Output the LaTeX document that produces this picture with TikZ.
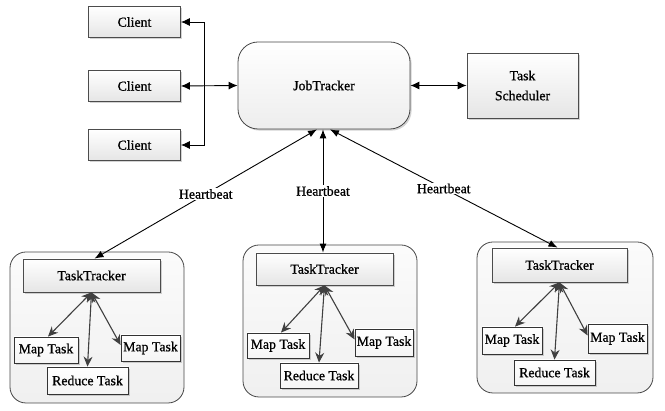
\documentclass[tikz,border=0pt]{standalone}
\usepackage{fontspec}
\setmainfont{Liberation Serif}[RawFeature={embolden=0.8}]
\usetikzlibrary{arrows.meta,shadows}
\begin{document}
\begin{tikzpicture}[x=1pt,y=-1pt,
  font=\fontsize{13.8}{16}\selectfont,
  sz/.style 2 args={minimum width=#1pt,minimum height=#2pt},
  shad/.style={drop shadow={shadow xshift=1.6pt,shadow yshift=-1.6pt,opacity=0.35}},
  box/.style={draw=gray!60!black, line width=0.8pt, top color=white, bottom color=gray!20, shad, inner sep=0pt, align=center},
  taskbox/.style={draw=gray!40!black, line width=0.8pt, top color=white, bottom color=gray!8, shad, inner sep=0pt},
  group/.style={draw=gray!55!black, line width=0.8pt, rounded corners=16pt, top color=gray!3, bottom color=gray!12, inner sep=0pt},
  jtbox/.style={draw=gray!55!black, line width=0.8pt, rounded corners=20pt, top color=white, bottom color=gray!14, shad, inner sep=0pt},
  arr/.style={black, line width=0.9pt, {Latex[length=9pt,width=8pt]}-{Latex[length=9pt,width=8pt]}},
  onearr/.style={black, line width=0.9pt, -{Latex[length=9pt,width=8pt]}},
  hb/.style={black, line width=0.9pt, {Latex[length=9pt,width=7pt]}-{Latex[length=9pt,width=7pt]}},
  inner/.style={black!75, line width=1.1pt, {Stealth[length=10pt,width=9pt]}-{Stealth[length=10pt,width=9pt]}},
  lbl/.style={fill=white, inner sep=1pt}
]
\useasboundingbox (0,0) rectangle (665,411);

% clients
\node[box, sz={92}{31}] (c1) at (134.5,22) {Client};
\node[box, sz={92}{31}] (c2) at (134.5,86) {Client};
\node[box, sz={92}{31}] (c3) at (134.5,145) {Client};

% job tracker and scheduler
\node[jtbox, sz={172}{87}] (jt) at (324,85.5) {JobTracker};
\node[box, sz={111}{65}] (ts) at (522.5,85.5) {Task\\[4pt]Scheduler};

\coordinate (bus) at (204,86);
\draw[arr] (c2.east) -- (jt.west);
\draw[onearr] (bus) |- (c1.east);
\draw[onearr] (bus) |- (c3.east);
\draw[arr] (jt.east) -- (ts.west);

% groups
\node[group, sz={174}{151}] (g1) at (97,327.5) {};
\node[group, sz={174}{152}] (g2) at (330,321) {};
\node[group, sz={176}{151}] (g3) at (565,317.5) {};

% group 1
\node[box, sz={137}{33}] (tt1) at (91.5,275.5) {TaskTracker};
\node[taskbox, sz={64}{26}] (ml1) at (46,350) {Map Task};
\node[taskbox, sz={59}{26}] (mr1) at (150.5,348) {Map Task};
\node[taskbox, sz={81}{27}] (r1) at (87.5,380.5) {Reduce Task};

% group 2
\node[box, sz={137}{32}] (tt2) at (324.5,269) {TaskTracker};
\node[taskbox, sz={62}{25}] (ml2) at (278,345.5) {Map Task};
\node[taskbox, sz={58}{27}] (mr2) at (384,342.5) {Map Task};
\node[taskbox, sz={78}{25}] (r2) at (319,375.5) {Reduce Task};

% group 3
\node[box, sz={135}{34}] (tt3) at (559.5,265) {TaskTracker};
\node[taskbox, sz={60}{27}] (ml3) at (512,340.5) {Map Task};
\node[taskbox, sz={59}{29}] (mr3) at (617.5,338.5) {Map Task};
\node[taskbox, sz={81}{25}] (r3) at (554.5,372.5) {Reduce Task};

% inner arrows
\draw[inner] (tt1.south) -- ([xshift=2pt]ml1.north);
\draw[inner] (tt1.south) -- (r1.north);
\draw[inner] (tt1.south) -- ([yshift=3pt]mr1.west);
\draw[inner] (tt2.south) -- ([xshift=3pt]ml2.north);
\draw[inner] (tt2.south) -- (r2.north);
\draw[inner] (tt2.south) -- ([yshift=3pt]mr2.west);
\draw[inner] (tt3.south) -- ([xshift=3pt]ml3.north);
\draw[inner] (tt3.south) -- (r3.north);
\draw[inner] (tt3.south) -- ([yshift=3pt]mr3.west);

% heartbeats
\draw[hb] ([xshift=-7pt]jt.south) -- node[lbl, pos=0.5] {Heartbeat} ([xshift=3pt]tt1.north);
\draw[hb] ([xshift=-1pt]jt.south) -- node[lbl, pos=0.5] {Heartbeat} ([xshift=-1.5pt]tt2.north);
\draw[hb] ([xshift=6pt]jt.south) -- node[lbl, pos=0.5] {Heartbeat} ([xshift=-2pt]tt3.north);
\end{tikzpicture}
\end{document}
